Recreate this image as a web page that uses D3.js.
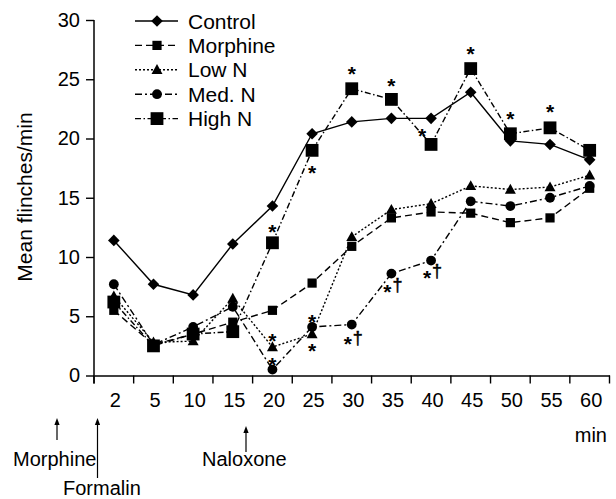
<!DOCTYPE html>
<html>
<head>
<meta charset="utf-8">
<script src="https://cdn.jsdelivr.net/npm/d3@7"></script>
<style>
  html, body { margin: 0; padding: 0; background: #fff; }
  svg { display: block; }
  text { font-family: "Liberation Sans", Arial, Helvetica, sans-serif; fill: #000; }
</style>
</head>
<body>
<svg id="chart" width="616" height="499"></svg>
<script>
// ---- data ----
const categories = ["2", "5", "10", "15", "20", "25", "30", "35", "40", "45", "50", "55", "60"];
const control  = [11.4, 7.7, 6.8, 11.1, 14.3, 20.4, 21.4, 21.7, 21.7, 23.9, 19.8, 19.5, 18.2];
const morphine = [5.5, 2.6, 3.5, 4.5, 5.5, 7.8, 10.9, 13.3, 13.8, 13.7, 12.9, 13.3, 15.8];
const lowN     = [6.7, 2.8, 2.9, 6.5, 2.4, 3.5, 11.7, 14.0, 14.5, 16.0, 15.7, 15.9, 16.9];
const medN     = [7.7, 2.6, 4.1, 5.8, 0.5, 4.1, 4.3, 8.6, 9.7, 14.7, 14.3, 15.0, 16.0];
const highN    = [6.2, 2.5, 3.5, 3.7, 11.2, 19.0, 24.2, 23.3, 19.5, 25.9, 20.4, 20.9, 19.0];
const seriesNames = ["Control", "Morphine", "Low N", "Med. N", "High N"];
const yTicks = [0, 5, 10, 15, 20, 25, 30];
const xUnit = "min";
const yTitle = "Mean flinches/min";
// significance marks: category, value level where the mark sits, text
const marks = [
  ["20", 12.6, "*"], ["20", 3.4, "*"], ["20", 1.4, "*"],
  ["25", 17.6, "*"], ["25", 5.0, "*"], ["25", 2.5, "*"],
  ["30", 25.9, "*"], ["30", 3.1, "*†"],
  ["35", 24.9, "*"], ["35", 7.55, "*†"],
  ["40", 20.7, "*"], ["40", 8.7, "*†"],
  ["45", 27.6, "*"], ["50", 22.1, "*"], ["55", 22.7, "*"]
];
// event arrows below the axis
const events = ["Morphine", "Formalin", "Naloxone"];

// ---- layout ----
const svg = d3.select("#chart");
const FS = 20;
const x = d3.scaleBand().domain(categories).range([94, 609.5]).paddingInner(0).paddingOuter(0);
const y = d3.scaleLinear().domain([0, 30]).range([375.5, 20]);
const cx = c => x(c) + x.bandwidth() / 2;

// y axis
const yAxis = svg.append("g").attr("transform", "translate(94,0)")
  .call(d3.axisLeft(y).tickValues(yTicks).tickSize(8).tickSizeOuter(0).tickPadding(6));
yAxis.select(".domain").remove();
yAxis.selectAll(".tick line").attr("stroke", "#000").attr("stroke-width", 1.4);
yAxis.selectAll(".tick text").attr("font-size", FS).attr("font-family", "Liberation Sans, Arial, sans-serif");
svg.append("line").attr("x1", 94).attr("x2", 94).attr("y1", y(30)).attr("y2", y(0) + 8)
  .attr("stroke", "#000").attr("stroke-width", 1.5);

// x axis
const xAxis = svg.append("g").attr("transform", `translate(0,${y(0)})`)
  .call(d3.axisBottom(x).tickSize(0).tickSizeOuter(0).tickPadding(17));
xAxis.select(".domain").attr("stroke", "#000").attr("stroke-width", 1.5);
xAxis.selectAll(".tick text").attr("font-size", FS).attr("font-family", "Liberation Sans, Arial, sans-serif")
  .attr("dx", 1.5);
const edges = categories.map(c => x(c)).concat([x.range()[1]]);
svg.append("g").selectAll("line").data(edges).join("line")
  .attr("x1", d => d).attr("x2", d => d).attr("y1", y(0)).attr("y2", y(0) + 8)
  .attr("stroke", "#000").attr("stroke-width", 1.4);

svg.append("text").attr("x", 607).attr("y", 442).attr("text-anchor", "end")
  .attr("font-size", FS).text(xUnit);

svg.append("text").attr("transform", "translate(32,197) rotate(-90)").attr("text-anchor", "middle")
  .attr("font-size", FS + 1).text(yTitle);

// ---- series ----
const styles = [
  { dash: null, shape: "diamond" },
  { dash: "7,4", shape: "sqSmall" },
  { dash: "2,2", shape: "triangle" },
  { dash: "7,3,2,3", shape: "circle" },
  { dash: "6,2.5,1.5,2.5", shape: "sqBig" }
];
const allSeries = [control, morphine, lowN, medN, highN];

function drawMarker(g, shape, px, py) {
  if (shape === "diamond") {
    const h = 5.8;
    g.append("path").attr("d", `M${px},${py - h}L${px + h},${py}L${px},${py + h}L${px - h},${py}Z`);
  } else if (shape === "sqSmall") {
    g.append("rect").attr("x", px - 4.6).attr("y", py - 4.6).attr("width", 9.2).attr("height", 9.2);
  } else if (shape === "sqBig") {
    g.append("rect").attr("x", px - 6.4).attr("y", py - 6.4).attr("width", 12.8).attr("height", 12.8);
  } else if (shape === "triangle") {
    g.append("path").attr("d", `M${px},${py - 5.7}L${px + 5.5},${py + 4.2}L${px - 5.5},${py + 4.2}Z`);
  } else if (shape === "circle") {
    g.append("circle").attr("cx", px).attr("cy", py).attr("r", 4.9);
  }
}

const line = d3.line().x((d, i) => cx(categories[i])).y(d => y(d));
allSeries.forEach((vals, si) => {
  const g = svg.append("g");
  g.append("path").attr("d", line(vals)).attr("fill", "none").attr("stroke", "#000")
    .attr("stroke-width", 1.4).attr("stroke-dasharray", styles[si].dash);
  const mg = g.append("g").attr("fill", "#000");
  vals.forEach((v, i) => drawMarker(mg, styles[si].shape, cx(categories[i]), y(v)));
});

// ---- legend ----
const legend = svg.append("g");
seriesNames.forEach((name, i) => {
  const ly = 21 + i * 24.4;
  legend.append("line").attr("x1", 135).attr("x2", 178).attr("y1", ly).attr("y2", ly)
    .attr("stroke", "#000").attr("stroke-width", 1.4).attr("stroke-dasharray", styles[i].dash);
  const mg = legend.append("g").attr("fill", "#000");
  drawMarker(mg, styles[i].shape, 157, ly);
  legend.append("text").attr("x", 188).attr("y", ly + 7.5).attr("font-size", FS + 1).text(name);
});

// ---- significance marks ----
const mk = svg.append("g");
marks.forEach(([c, v, t]) => {
  let px = cx(c);
  if (c === "40" && t === "*") px -= 9;
  const chars = t.split("");
  const startX = chars.length > 1 ? px - 4 : px;
  chars.forEach((ch, k) => {
    const fsz = ch === "*" ? 21 : 18;
    const off = ch === "*" ? 0.6 * fsz : 0.27 * fsz;
    const tx = mk.append("text").attr("x", startX + k * 10).attr("y", y(v) + off)
      .attr("text-anchor", "middle").attr("font-size", fsz)
      .attr("font-weight", ch === "*" ? "bold" : "normal").text(ch);
    if (ch !== "*") tx.attr("stroke", "#000").attr("stroke-width", 0.5);
  });
});

// ---- event arrows ----
const evX = [57, 97.5, 246];
const evTop = [418, 418, 426];
const evBottom = [440, 478, 452];
const evTextX = [13, 63, 202];
const evTextY = [466, 495, 466];
const ev = svg.append("g");
events.forEach((name, i) => {
  ev.append("line").attr("x1", evX[i]).attr("x2", evX[i]).attr("y1", evTop[i] + 4).attr("y2", evBottom[i])
    .attr("stroke", "#000").attr("stroke-width", 1.2);
  ev.append("path").attr("d", `M${evX[i]},${evTop[i]}L${evX[i] + 2.6},${evTop[i] + 7}L${evX[i] - 2.6},${evTop[i] + 7}Z`)
    .attr("fill", "#000");
  ev.append("text").attr("x", evTextX[i]).attr("y", evTextY[i]).attr("font-size", FS).text(name);
});
</script>
</body>
</html>
